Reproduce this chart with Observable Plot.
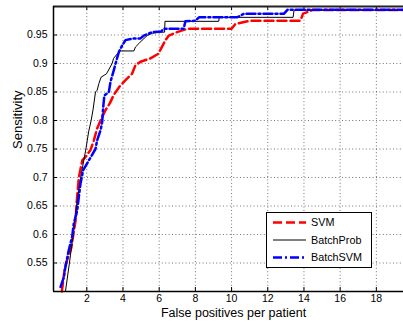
<!DOCTYPE html>
<html><head><meta charset="utf-8">
<script src="https://cdn.jsdelivr.net/npm/d3@7"></script>
<script src="https://cdn.jsdelivr.net/npm/@observablehq/plot@0.6"></script>
<style>
body{margin:0;background:#fff;}
#wrap{position:relative;width:403px;height:322px;overflow:hidden;font-family:"Liberation Sans",Arial,sans-serif;}
#legend{position:absolute;left:266px;top:212px;width:104px;height:54px;border:1px solid #000;background:#fff;}
</style></head>
<body><div id="wrap"></div>
<script>
const xLabel = "False positives per patient";
const yLabel = "Sensitivity";
const xDomain = [0.16, 19.5];
const yDomain = [0.5, 1.0];
const xTicks = [2, 4, 6, 8, 10, 12, 14, 16, 18];
const yTicks = [0.55, 0.6, 0.65, 0.7, 0.75, 0.8, 0.85, 0.9, 0.95];
const seriesNames = ["SVM", "BatchProb", "BatchSVM"];

const svmX = [0.62, 0.78, 0.88, 1.14, 1.25, 1.38, 1.45, 1.56, 1.75, 1.93, 2.2, 2.39, 2.57, 2.76, 3.03, 3.27, 3.49, 3.82, 4.14, 4.5, 4.69, 4.97, 5.52, 5.95, 6.35, 6.53, 6.99, 7.55, 10.0, 10.2, 11.0, 13.8, 13.95, 14.5, 19.5];
const svmY = [0.50, 0.54, 0.552, 0.576, 0.599, 0.625, 0.66, 0.70, 0.73, 0.736, 0.748, 0.765, 0.786, 0.80, 0.818, 0.83, 0.845, 0.86, 0.871, 0.882, 0.897, 0.903, 0.909, 0.917, 0.941, 0.949, 0.955, 0.961, 0.961, 0.969, 0.975, 0.975, 0.9875, 0.994, 0.994];

const bpX = [0.82, 1.04, 1.25, 1.43, 1.66, 1.95, 2.1, 2.24, 2.35, 2.48, 2.57, 2.67, 2.79, 3.09, 3.40, 3.48, 3.82, 4.6, 4.69, 4.88, 5.06, 5.34, 5.61, 6.07, 6.3, 6.32, 9.29, 9.32, 13.4, 13.45, 19.5];
const bpY = [0.5, 0.55, 0.6, 0.65, 0.70, 0.75, 0.78, 0.80, 0.82, 0.85, 0.853, 0.865, 0.876, 0.882, 0.900, 0.909, 0.922, 0.922, 0.929, 0.935, 0.941, 0.949, 0.953, 0.955, 0.955, 0.974, 0.974, 0.981, 0.981, 0.9935, 0.9935];

const bsX = [0.55, 0.73, 0.82, 1.0, 1.19, 1.28, 1.47, 1.56, 1.65, 1.8, 2.17, 2.48, 2.57, 2.76, 2.85, 2.9, 2.97, 3.22, 3.31, 3.49, 3.59, 3.77, 3.96, 4.14, 4.6, 4.97, 5.15, 5.61, 6.1, 6.25, 7.35, 7.45, 8.0, 8.2, 10.3, 10.7, 12.9, 13.1, 19.5];
const bsY = [0.508, 0.525, 0.543, 0.572, 0.596, 0.619, 0.642, 0.666, 0.689, 0.713, 0.733, 0.75, 0.765, 0.783, 0.797, 0.821, 0.844, 0.85, 0.868, 0.888, 0.9, 0.92, 0.932, 0.941, 0.944, 0.944, 0.949, 0.955, 0.956, 0.961, 0.961, 0.974, 0.975, 0.981, 0.981, 0.9875, 0.9875, 0.9945, 0.9945];

const toRows = (xs, ys) => xs.map((x, i) => ({x, y: ys[i]}));
const svm = toRows(svmX, svmY);
const bp = toRows(bpX, bpY);
const bs = toRows(bsX, bsY);

const styles = {
  SVM: {stroke: "#ff0000", strokeWidth: 2.5, strokeDasharray: "9,4"},
  BatchProb: {stroke: "#000000", strokeWidth: 1, strokeDasharray: null},
  BatchSVM: {stroke: "#0000ff", strokeWidth: 2.5, strokeDasharray: "9,3,2,3"}
};

const W = 403, H = 322, mL = 53, mT = 6, mB = 31, mR = 0;
const fw = W - mL - mR, fh = H - mT - mB;

const fmt = d => String(+d.toFixed(2));

const chart = Plot.plot({
  width: W, height: H,
  marginLeft: mL, marginTop: mT, marginBottom: mB, marginRight: mR,
  style: {fontFamily: "'Liberation Sans', Arial, sans-serif", fontSize: "10.5px", color: "#000", background: "#fff"},
  x: {domain: xDomain},
  y: {domain: yDomain},
  marks: [
    Plot.gridX(xTicks, {stroke: "#000", strokeOpacity: 0.55, strokeDasharray: "1,2.4"}),
    Plot.gridY(yTicks, {stroke: "#000", strokeOpacity: 0.55, strokeDasharray: "1,2.4"}),
    Plot.axisX(xTicks, {tickSize: 0, tickPadding: 3, tickFormat: fmt, label: null, fontSize: 10.5}),
    Plot.axisY(yTicks, {tickSize: 0, tickPadding: 6, tickFormat: fmt, label: null, fontSize: 10.5}),
    Plot.ruleX(xTicks, {insetTop: fh - 4, stroke: "#000"}),
    Plot.ruleX(xTicks, {insetBottom: fh - 4, stroke: "#000"}),
    Plot.ruleY(yTicks, {insetRight: fw - 4, stroke: "#000"}),
    Plot.line(svm, {x: "x", y: "y", ...styles.SVM}),
    Plot.line(bp, {x: "x", y: "y", ...styles.BatchProb}),
    Plot.line(bs, {x: "x", y: "y", ...styles.BatchSVM}),
    Plot.ruleY([yDomain[0]], {stroke: "#000", strokeWidth: 1.5}),
    Plot.ruleY([yDomain[1]], {stroke: "#222", strokeWidth: 2}),
    Plot.ruleX([xDomain[0]], {stroke: "#000", strokeWidth: 1.5}),
    Plot.text([xLabel], {frameAnchor: "bottom", dx: 5, dy: 25, fontSize: 12.5, fill: "#000"}),
    Plot.text([yLabel], {frameAnchor: "left", rotate: -90, dx: -36, fontSize: 13, fill: "#000"})
  ]
});

const wrap = document.getElementById("wrap");
wrap.appendChild(chart);

// Legend
const leg = document.createElement("div");
leg.id = "legend";
const ns = "http://www.w3.org/2000/svg";
const lsvg = document.createElementNS(ns, "svg");
lsvg.setAttribute("width", 104);
lsvg.setAttribute("height", 54);
const rowsY = [9.5, 27, 44.5];
seriesNames.forEach((name, i) => {
  const s = styles[name];
  const ln = document.createElementNS(ns, "line");
  ln.setAttribute("x1", 6); ln.setAttribute("x2", 39);
  ln.setAttribute("y1", rowsY[i]); ln.setAttribute("y2", rowsY[i]);
  ln.setAttribute("stroke", s.stroke);
  ln.setAttribute("stroke-width", s.strokeWidth);
  if (s.strokeDasharray) ln.setAttribute("stroke-dasharray", s.strokeDasharray);
  lsvg.appendChild(ln);
  const t = document.createElementNS(ns, "text");
  t.setAttribute("x", 44); t.setAttribute("y", rowsY[i]);
  t.setAttribute("dy", "0.35em");
  t.setAttribute("font-size", "10.8px");
  t.setAttribute("font-family", "'Liberation Sans', Arial, sans-serif");
  t.textContent = name;
  lsvg.appendChild(t);
});
leg.appendChild(lsvg);
wrap.appendChild(leg);
</script>
</body></html>
